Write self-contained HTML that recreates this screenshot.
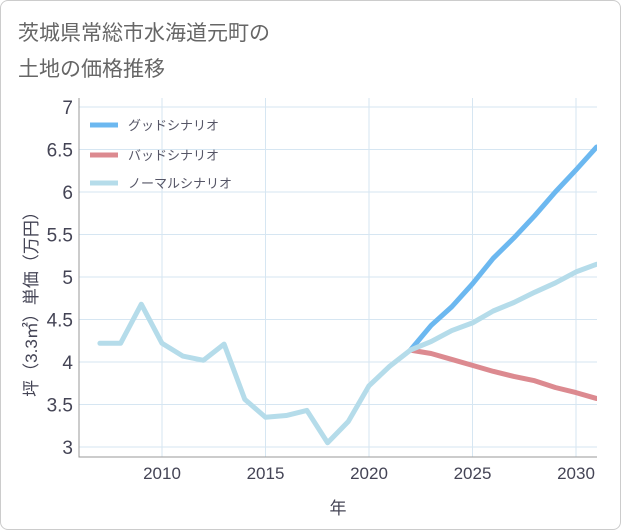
<!DOCTYPE html>
<html><head><meta charset="utf-8"><style>
body{margin:0;background:#fff;font-family:"Liberation Sans","Noto Sans CJK JP",sans-serif;}
#wrap{position:relative;width:619px;height:528px;border:1px solid #ccc;border-radius:8px;background:#fff;overflow:hidden}
</style></head><body>
<div id="wrap">
<svg id="c" width="621" height="530" style="position:absolute;left:-1px;top:-1px"></svg>
</div>
<script>
const years=[2007,2008,2009,2010,2011,2012,2013,2014,2015,2016,2017,2018,2019,2020,2021,2022];
const hist=[4.22,4.22,4.68,4.22,4.07,4.02,4.21,3.56,3.35,3.37,3.43,3.05,3.30,3.72,3.95,4.14];
const fYears=[2022,2023,2024,2025,2026,2027,2028,2029,2030,2031];
const good=[4.14,4.43,4.65,4.92,5.22,5.46,5.72,6.0,6.26,6.53];
const bad=[4.14,4.10,4.03,3.96,3.89,3.83,3.78,3.70,3.64,3.57];
const normal=[4.14,4.24,4.37,4.46,4.60,4.70,4.82,4.93,5.06,5.15];
const yTicks=[3,3.5,4,4.5,5,5.5,6,6.5,7];
const yTickLabels=["3","3.5","4","4.5","5","5.5","6","6.5","7"];
const xTicks=[2010,2015,2020,2025,2030];
const NS="http://www.w3.org/2000/svg";
const svg=document.getElementById('c');
const L=79,R=597,T=98,B=457;
const X=v=>162+(v-2010)*20.7;
const Y=v=>447-(v-3)*85;
function mk(t,a,p){const e=document.createElementNS(NS,t);for(const k in a)e.setAttribute(k,a[k]);(p||svg).appendChild(e);return e;}
let t=mk('text',{x:18,y:40,'font-size':21,fill:'#666'});t.textContent='茨城県常総市水海道元町の';


t=mk('text',{x:18,y:76,'font-size':21,fill:'#666'});t.textContent='土地の価格推移';


yTicks.forEach((v,i)=>{
 const g=mk('line',{x1:L,x2:R,y1:Y(v),y2:Y(v),stroke:'#d6e6f2','stroke-width':1});
 
 
 const tx=mk('text',{x:73,y:Y(v)+7,'font-size':19,fill:'#445','text-anchor':'end'});tx.textContent=yTickLabels[i];
 
 
});
xTicks.forEach(v=>{
 const g=mk('line',{x1:X(v),x2:X(v),y1:T,y2:B,stroke:'#d6e6f2','stroke-width':1});
 
 
 const tx=mk('text',{x:X(v),y:479,'font-size':17,fill:'#445','text-anchor':'middle'});tx.textContent=v;
 
 
});
const fr=mk('path',{d:`M${L} ${T}V${B}H${R}`,fill:'none',stroke:'#999','stroke-width':1});


const yt=mk('text',{transform:'translate(37,300) rotate(-90)','font-size':17,fill:'#445','text-anchor':'middle'});yt.textContent='坪（3.3㎡）単価（万円）';


const xt=mk('text',{x:338,y:514,'font-size':17,fill:'#445','text-anchor':'middle'});xt.textContent='年';


const clip=mk('clipPath',{id:'cp'});mk('rect',{x:L,y:T,width:R-L,height:B-T},clip);
function line(xs,ys,col,name){const p=mk('polyline',{points:xs.map((x,i)=>X(x)+','+Y(ys[i])).join(' '),fill:'none',stroke:col,'stroke-width':5,'stroke-linejoin':'round','stroke-linecap':'round','clip-path':'url(#cp)'});
 
 }
line(fYears,good,'#6cb8f0','good-scenario-line');
line(fYears,bad,'#dc8a90','bad-scenario-line');
line(fYears,normal,'#b5dcea','normal-scenario-line');
line(years,hist,'#b5dcea','historical-line');
[['グッドシナリオ','#6cb8f0',125],['バッドシナリオ','#dc8a90',155],['ノーマルシナリオ','#b5dcea',183]].forEach(([s,c,y])=>{
 const g=mk('g',{});
 
 
 mk('line',{x1:90,x2:118,y1:y,y2:y,stroke:c,'stroke-width':5},g);
 const tx=mk('text',{x:128,y:y+5,'font-size':13,fill:'#556'},g);tx.textContent=s;
});
</script>
</body></html>
